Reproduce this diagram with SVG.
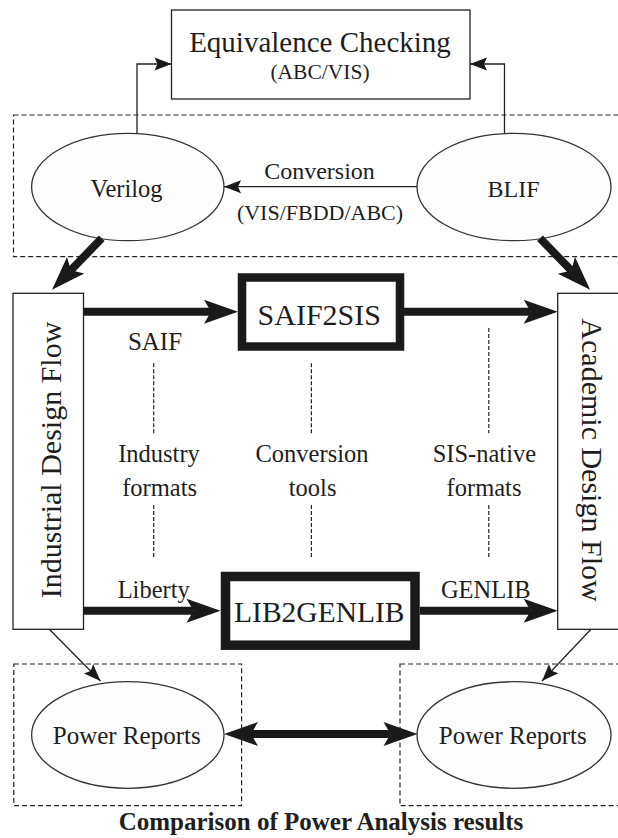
<svg xmlns="http://www.w3.org/2000/svg" width="618" height="838" viewBox="0 0 618 838">
  <style>
    text { font-family: "Liberation Serif", "Times New Roman", serif; fill: #1e1e1e; text-anchor: middle; }
    .box { fill: #fff; stroke: #222; stroke-width: 1.3; }
    .tool { fill: #fff; stroke: #1a1a1a; }
    .ell { fill: #fdfdfd; stroke: #333; stroke-width: 1.3; }
    .grp { fill: none; stroke: #222; stroke-width: 1.2; stroke-dasharray: 5 3; }
    .thin { fill: none; stroke: #222; stroke-width: 1.3; }
    .thick { fill: none; stroke: #1a1a1a; stroke-width: 8; }
    .guide { fill: none; stroke: #222; stroke-width: 1.2; stroke-dasharray: 4 2; }
  </style>
  <defs>
    <marker id="headThin" markerUnits="userSpaceOnUse" orient="auto" refX="17" refY="0" markerWidth="20" markerHeight="16" overflow="visible">
      <path d="M0,-6.5 L17,0 L0,6.5 L3,0 Z" fill="#1a1a1a"/>
    </marker>
    <marker id="headThick" markerUnits="userSpaceOnUse" orient="auto-start-reverse" refX="7" refY="0" markerWidth="40" markerHeight="30" overflow="visible">
      <path d="M0,-12 L34,0 L0,12 L7,0 Z" fill="#1a1a1a"/>
    </marker>
  </defs>

  <!-- grouping frames -->
  <g id="frames">
    <rect class="grp" x="13.5" y="115" width="615" height="141.7"/>
    <rect class="grp" x="13.8" y="664" width="227.8" height="141.7"/>
    <rect class="grp" x="400" y="664" width="228" height="141.7"/>
  </g>

  <g id="equivalence">
    <rect class="box" x="171.5" y="10" width="298.5" height="89"/>
    <text x="320" y="52" font-size="29">Equivalence Checking</text>
    <text x="320" y="79" font-size="21.5">(ABC/VIS)</text>
  </g>

  <g id="verilog">
    <ellipse class="ell" cx="127.8" cy="187" rx="96.2" ry="53.7"/>
    <text x="126.5" y="196.5" font-size="24.5">Verilog</text>
  </g>

  <g id="blif">
    <ellipse class="ell" cx="514" cy="187" rx="97" ry="53.7"/>
    <text x="513.6" y="196.5" font-size="24">BLIF</text>
  </g>

  <g id="industrial-flow">
    <rect class="box" x="13" y="293.3" width="70.5" height="336"/>
    <text transform="translate(61,460) rotate(-90)" font-size="30">Industrial Design Flow</text>
  </g>

  <g id="academic-flow">
    <rect class="box" x="557.7" y="293.3" width="70" height="336"/>
    <text transform="translate(582,460) rotate(90)" font-size="30">Academic Design Flow</text>
  </g>

  <g id="saif2sis">
    <rect class="tool" x="242" y="277.5" width="158" height="69" stroke-width="8.5"/>
    <text x="319.3" y="325" font-size="30">SAIF2SIS</text>
  </g>

  <g id="lib2genlib">
    <rect class="tool" x="225.5" y="576.5" width="189.5" height="68.7" stroke-width="9.5"/>
    <text x="319.3" y="621.5" font-size="29.5">LIB2GENLIB</text>
  </g>

  <g id="power-industrial">
    <ellipse class="ell" cx="127.8" cy="735" rx="96.2" ry="53.3"/>
    <text x="126.7" y="744" font-size="25">Power Reports</text>
  </g>

  <g id="power-academic">
    <ellipse class="ell" cx="514" cy="735" rx="97" ry="53.3"/>
    <text x="512.8" y="744" font-size="25">Power Reports</text>
  </g>

  <!-- category columns -->
  <g id="categories">
    <path class="guide" d="M153.7,363.3 V433.3 M153.7,505 V558.3"/>
    <path class="guide" d="M311.4,363.3 V433.3 M311.4,505 V558.3"/>
    <path class="guide" d="M488.8,328 V433.3 M488.8,505 V558.3"/>
    <text x="159" y="461.7" font-size="24.5">Industry</text>
    <text x="159.6" y="496" font-size="24.5">formats</text>
    <text x="312" y="461.7" font-size="24.5">Conversion</text>
    <text x="312.6" y="496" font-size="24.5">tools</text>
    <text x="484.4" y="461.7" font-size="24.5">SIS-native</text>
    <text x="484" y="496" font-size="24.5">formats</text>
  </g>

  <g id="connectors">
    <path class="thin" d="M137,133.3 V64 H171.5" marker-end="url(#headThin)"/>
    <path class="thin" d="M504.5,133.3 V64 H470" marker-end="url(#headThin)"/>
    <path class="thin" d="M417,186.7 H224" marker-end="url(#headThin)"/>
    <path class="thin" d="M49.3,629.3 L100.5,681" marker-end="url(#headThin)"/>
    <path class="thin" d="M591,629.3 L542,681" marker-end="url(#headThin)"/>

    <path class="thick" d="M101.7,238.3 L70.8,270.3" marker-end="url(#headThick)"/>
    <path class="thick" d="M540,238.3 L571.3,270.5" marker-end="url(#headThick)"/>
    <path class="thick" d="M83.5,311.7 H211" marker-end="url(#headThick)"/>
    <path class="thick" d="M404,311.7 H530.7" marker-end="url(#headThick)"/>
    <path class="thick" d="M83.5,610.7 H193.5" marker-end="url(#headThick)"/>
    <path class="thick" d="M419.8,610.7 H530.7" marker-end="url(#headThick)"/>
    <path class="thick" d="M251,734 H390.5" marker-start="url(#headThick)" marker-end="url(#headThick)"/>

    <text x="319.5" y="179" font-size="24">Conversion</text>
    <text x="320" y="220" font-size="22">(VIS/FBDD/ABC)</text>
    <text x="155" y="350" font-size="25">SAIF</text>
    <text x="153.7" y="598.3" font-size="24.5">Liberty</text>
    <text x="485.8" y="598.3" font-size="24.5">GENLIB</text>
  </g>

  <text x="321" y="830" font-size="25" font-weight="bold">Comparison of Power Analysis results</text>
</svg>
